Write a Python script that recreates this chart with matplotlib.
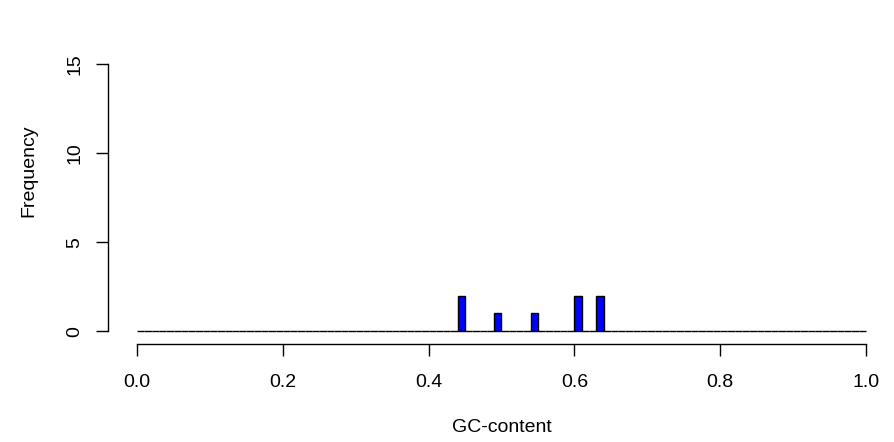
import matplotlib
matplotlib.use('Agg')
import matplotlib.pyplot as plt
import numpy as np

# GC-content values per sequence (0.01-wide bins)
bin_mids = [0.445, 0.495, 0.545, 0.605, 0.635]
counts = [2, 1, 1, 2, 2]
breaks = np.linspace(0.0, 1.0, 101)
x_ticks = [0.0, 0.2, 0.4, 0.6, 0.8, 1.0]
y_ticks = [0, 5, 10, 15]

gc = np.repeat(bin_mids, counts)

plt.rcParams['font.family'] = ['Liberation Sans', 'DejaVu Sans']

fig = plt.figure(figsize=(8.95, 4.42), dpi=100)
W, H = 895.0, 442.0
# plot region in pixels (R style, ylim 0..18 padded 4%): left 108, right 895, top -2, bottom 344
ax = fig.add_axes([108/W, 1-344/H, (895-108)/W, (344+2)/H])

ax.hist(gc, bins=breaks, color='#0000ff', edgecolor='black', linewidth=1.0)

ax.set_xlim(-0.04, 1.04)
ax.set_ylim(-0.72, 18.72)

for s in ['top', 'right']:
	ax.spines[s].set_visible(False)
ax.spines['left'].set_bounds(0, 15)
ax.spines['bottom'].set_bounds(0, 1)
ax.spines['left'].set_linewidth(1.0)
ax.spines['bottom'].set_linewidth(1.0)

ax.set_xticks(x_ticks)
ax.set_xticklabels(['%.1f' % v for v in x_ticks])
ax.set_yticks(y_ticks)
ax.set_yticklabels([str(v) for v in y_ticks], rotation=90, va='center')
ax.tick_params(length=8.5, width=1.0, labelsize=14, colors='black')
ax.tick_params(axis='x', pad=13)
ax.tick_params(axis='y', pad=9)

ax.set_xlabel('GC-content', fontsize=14, labelpad=20)
ax.set_ylabel('Frequency', fontsize=14, labelpad=21)

fig.savefig('out.png', dpi=100)
